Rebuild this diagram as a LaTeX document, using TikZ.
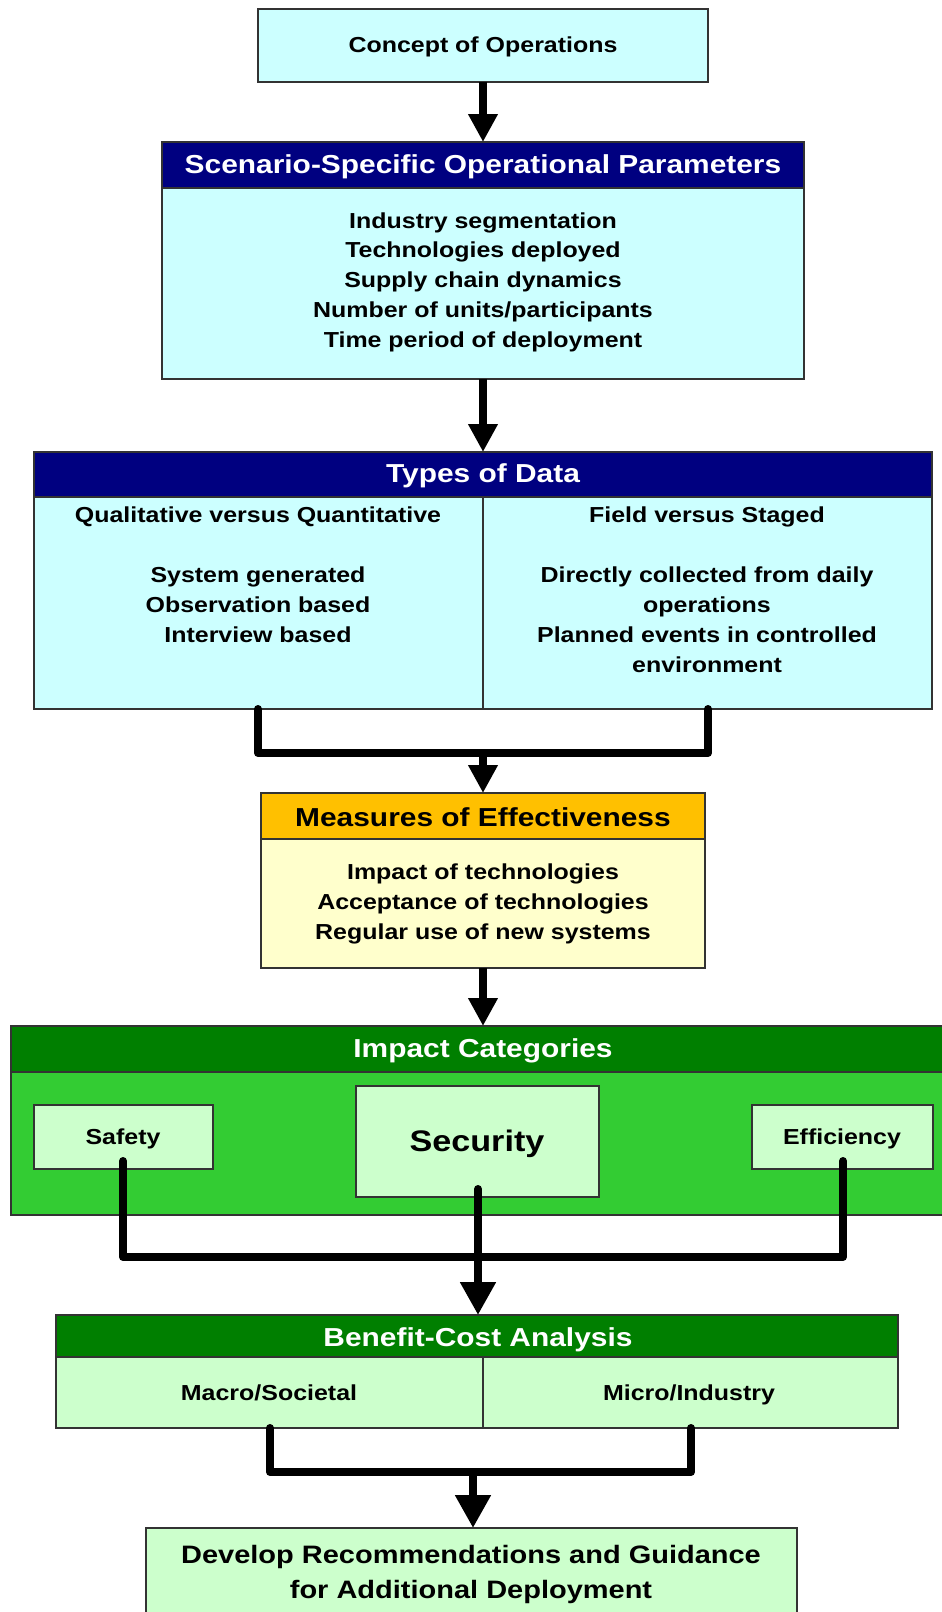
\documentclass[tikz,border=0pt]{standalone}
\usepackage{fontspec}
\setmainfont{Liberation Sans}[FakeStretch=1.15]
\usetikzlibrary{arrows.meta}
\definecolor{lcyan}{HTML}{CCFFFF}
\definecolor{navy}{HTML}{000080}
\definecolor{gold}{HTML}{FFC000}
\definecolor{lyellow}{HTML}{FFFFCC}
\definecolor{dgreen}{HTML}{007F00}
\definecolor{bgreen}{HTML}{33CC33}
\definecolor{lgreen}{HTML}{CCFFCC}
\definecolor{edge}{HTML}{333333}
\newcommand\fbody{\fontsize{21.7}{29.7}\selectfont\bfseries}
\newcommand\fhead{\fontsize{26}{32}\selectfont\bfseries}
\newcommand\fsec{\fontsize{29.7}{34}\selectfont\bfseries}
\newcommand\fdev{\fontsize{25.2}{35}\selectfont\bfseries}
\begin{document}
\begin{tikzpicture}[x=1pt,y=-1pt,
  box/.style={draw=edge, line width=1.2pt, rectangle, inner sep=0pt, outer sep=0pt, anchor=north west},
  txt/.style={align=center, inner sep=0pt, font=\fbody},
  htxt/.style={align=center, inner sep=0pt, font=\fhead},
  arr/.style={line width=8pt, -{Triangle[length=28pt,width=28pt]}},
  bigarr/.style={line width=8pt, -{Triangle[length=33pt,width=34pt]}},
  bar/.style={line width=8pt, line join=round, line cap=round}]
\useasboundingbox (0,0) rectangle (942,1612);
\fill[white] (0,0) rectangle (942,1612);

% Concept of Operations
\node[box, fill=lcyan, minimum width=450pt, minimum height=73pt] (concept) at (258,9) {};
\node[txt] (conceptt) at (483,47) {Concept of Operations};

% Scenario-Specific Operational Parameters
\node[box, fill=navy, minimum width=642pt, minimum height=46pt] (scenhead) at (162,142) {};
\node[box, fill=lcyan, minimum width=642pt, minimum height=191pt] (scenbody) at (162,188) {};
\node[htxt, text=white] (scenheadt) at (483,167) {Scenario-Specific Operational Parameters};
\node[txt] (scenbodyt) at (483,282) {Industry segmentation\\Technologies deployed\\Supply chain dynamics\\Number of units/participants\\Time period of deployment};

% Types of Data
\node[box, fill=navy, minimum width=898pt, minimum height=45pt] (typeshead) at (34,452) {};
\node[box, fill=lcyan, minimum width=898pt, minimum height=212pt] (typesbody) at (34,497) {};
\draw[edge, line width=1.2pt] (483,497) -- (483,709);
\node[htxt, text=white] (typesheadt) at (483,476) {Types of Data};
\node[txt, anchor=north] (qual) at (258,507) {Qualitative versus Quantitative};
\node[txt, anchor=north] (qualitems) at (258,567) {System generated\\Observation based\\Interview based};
\node[txt, anchor=north] (field) at (707,507) {Field versus Staged};
\node[txt, anchor=north] (fielditems) at (707,567) {Directly collected from daily\\operations\\Planned events in controlled\\environment};
\coordinate (typesL) at (258,709);
\coordinate (typesR) at (708,709);
\coordinate (join1) at (483,753);

% Measures of Effectiveness
\node[box, fill=gold, minimum width=444pt, minimum height=46pt] (meashead) at (261,793) {};
\node[box, fill=lyellow, minimum width=444pt, minimum height=129pt] (measbody) at (261,839) {};
\node[htxt] (measheadt) at (483,817) {Measures of Effectiveness};
\node[txt] (measbodyt) at (483,904) {Impact of technologies\\Acceptance of technologies\\Regular use of new systems};

% Impact Categories
\node[box, fill=dgreen, minimum width=939pt, minimum height=46pt] (imphead) at (11,1026) {};
\node[box, fill=bgreen, minimum width=939pt, minimum height=143pt] (impbody) at (11,1072) {};
\node[htxt, text=white] (impheadt) at (483,1051) {Impact Categories};
\node[box, fill=lgreen, minimum width=179pt, minimum height=64pt] (safety) at (34,1105) {};
\node[txt] (safetyt) at (123,1139) {Safety};
\node[box, fill=lgreen, minimum width=243pt, minimum height=111pt] (security) at (356,1086) {};
\node[align=center, inner sep=0pt, font=\fsec] (securityt) at (477,1144) {Security};
\node[box, fill=lgreen, minimum width=181pt, minimum height=64pt] (efficiency) at (752,1105) {};
\node[txt] (efficiencyt) at (842,1139) {Efficiency};
\coordinate (safetyS) at (123,1161);
\coordinate (effS) at (843,1161);
\coordinate (secS) at (478,1189);
\coordinate (join2) at (478,1257);

% Benefit-Cost Analysis
\node[box, fill=dgreen, minimum width=842pt, minimum height=42pt] (bcahead) at (56,1315) {};
\node[box, fill=lgreen, minimum width=842pt, minimum height=71pt] (bcabody) at (56,1357) {};
\draw[edge, line width=1.2pt] (483,1357) -- (483,1428);
\node[htxt, text=white] (bcaheadt) at (478,1340) {Benefit-Cost Analysis};
\node[txt, anchor=base] (macro) at (269,1400) {Macro/Societal};
\node[txt, anchor=base] (micro) at (689,1400) {Micro/Industry};
\coordinate (bcaL) at (270,1428);
\coordinate (bcaR) at (691,1428);
\coordinate (join3) at (473,1472);

% Develop Recommendations
\node[box, fill=lgreen, minimum width=651pt, minimum height=100pt] (develop) at (146,1528) {};
\node[align=center, inner sep=0pt, font=\fdev] (developt) at (471,1574) {Develop Recommendations and Guidance\\for Additional Deployment};

% Connectors
\draw[arr] (concept.south) -- (scenhead.north);
\draw[arr] (scenbody.south) -- (typeshead.north);
\draw[bar] (typesL) |- (join1) -| (typesR);
\draw[arr] (join1) -- (meashead.north);
\draw[arr] (measbody.south) -- (imphead.north -| measbody.south);
\draw[bar] (safetyS) |- (join2) -| (effS);
\draw[bar] (secS) -- (join2);
\draw[bigarr] (join2) -- (bcahead.north -| join2);
\draw[bar] (bcaL) |- (join3) -| (bcaR);
\draw[bigarr] (join3) -- (develop.north -| join3);
\end{tikzpicture}
\end{document}
